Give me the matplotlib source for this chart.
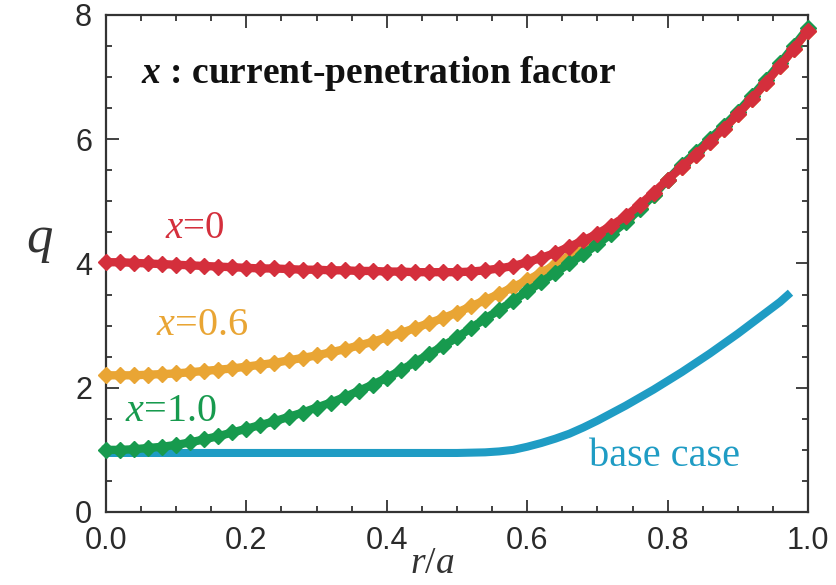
import numpy as np
import matplotlib
matplotlib.use("Agg")
import matplotlib.pyplot as plt
from matplotlib.ticker import MultipleLocator, FormatStrFormatter

plt.rcParams["mathtext.fontset"] = "custom"
plt.rcParams["mathtext.rm"] = "Liberation Serif"
plt.rcParams["mathtext.it"] = "Liberation Serif:italic"
plt.rcParams["mathtext.bf"] = "Liberation Serif:bold"
plt.rcParams["mathtext.bfit"] = "Liberation Serif:italic:bold"

# normalized minor radius grid for the profiles with markers
r_grid = np.linspace(0.0, 1.0, 51)

# safety factor q(r) for current-penetration factor x = 0
q_x0 = [4.02, 4.02, 4.01, 4.00, 3.99, 3.98, 3.97, 3.96, 3.95, 3.94,
        3.93, 3.92, 3.92, 3.91, 3.90, 3.90, 3.89, 3.89, 3.88, 3.88,
        3.87, 3.87, 3.86, 3.86, 3.86, 3.86, 3.87, 3.89, 3.92, 3.96,
        4.02, 4.09, 4.17, 4.27, 4.37, 4.48, 4.61, 4.76, 4.94, 5.14,
        5.35, 5.55, 5.75, 5.96, 6.17, 6.40, 6.65, 6.91, 7.18, 7.46,
        7.75]

# x = 0.6
q_x06 = [2.20, 2.20, 2.20, 2.21, 2.22, 2.23, 2.25, 2.27, 2.29, 2.31,
         2.34, 2.37, 2.40, 2.44, 2.48, 2.52, 2.57, 2.62, 2.68, 2.74,
         2.81, 2.88, 2.96, 3.04, 3.12, 3.21, 3.31, 3.41, 3.51, 3.62,
         3.73, 3.85, 3.98, 4.11, 4.25, 4.40, 4.56, 4.72, 4.90, 5.11,
         5.35, 5.55, 5.75, 5.96, 6.17, 6.40, 6.65, 6.91, 7.18, 7.46,
         7.75]

# x = 1.0
q_x10 = [1.00, 1.00, 1.01, 1.03, 1.05, 1.08, 1.12, 1.17, 1.22, 1.28,
         1.34, 1.40, 1.46, 1.53, 1.60, 1.68, 1.76, 1.85, 1.95, 2.05,
         2.16, 2.28, 2.41, 2.54, 2.67, 2.81, 2.96, 3.11, 3.25, 3.40,
         3.55, 3.70, 3.85, 4.00, 4.15, 4.31, 4.48, 4.66, 4.87, 5.10,
         5.35, 5.58, 5.79, 6.00, 6.21, 6.44, 6.69, 6.95, 7.22, 7.50,
         7.79]

# base case profile
r_base = [0.00, 0.04, 0.08, 0.12, 0.16, 0.20, 0.24, 0.28, 0.32, 0.36,
          0.40, 0.44, 0.48, 0.50, 0.52, 0.54, 0.56, 0.58, 0.60, 0.62,
          0.64, 0.66, 0.68, 0.70, 0.72, 0.74, 0.76, 0.78, 0.80, 0.82,
          0.84, 0.86, 0.88, 0.90, 0.92, 0.94, 0.96, 0.975]
q_base = [0.95, 0.95, 0.95, 0.95, 0.95, 0.95, 0.95, 0.95, 0.95, 0.95,
          0.95, 0.95, 0.95, 0.95, 0.955, 0.96, 0.975, 1.00, 1.05, 1.11,
          1.18, 1.26, 1.36, 1.47, 1.59, 1.71, 1.84, 1.97, 2.11, 2.25,
          2.40, 2.55, 2.71, 2.87, 3.04, 3.21, 3.38, 3.53]

c_red = "#d42f3c"
c_orange = "#e9a534"
c_green = "#179a4e"
c_blue = "#1f9cc4"
c_axis = "#333333"

fig = plt.figure(figsize=(8.37, 5.85), dpi=100)
ax = fig.add_axes([0.1266, 0.1248, 0.8388, 0.8496])

ax.plot(r_base, q_base, color=c_blue, lw=5.8, solid_capstyle="butt", zorder=2)
for q, c, z in [(q_x06, c_orange, 3), (q_x10, c_green, 4), (q_x0, c_red, 5)]:
    ax.plot(r_grid, q, color=c, lw=6, marker="D", ms=8,
            mec=c, mfc=c, zorder=z, clip_on=False)

ax.set_xlim(0, 1.0)
ax.set_ylim(0, 8)
ax.xaxis.set_major_locator(MultipleLocator(0.2))
ax.xaxis.set_minor_locator(MultipleLocator(0.05))
ax.yaxis.set_major_locator(MultipleLocator(2))
ax.yaxis.set_minor_locator(MultipleLocator(0.5))
ax.xaxis.set_major_formatter(FormatStrFormatter("%.1f"))

for s in ax.spines.values():
    s.set_linewidth(1.6)
    s.set_color(c_axis)
ax.tick_params(which="both", direction="in", top=True, right=True,
               color=c_axis, width=1.3)
ax.tick_params(which="major", length=9, labelsize=22, labelcolor="#2a2a2a")
ax.tick_params(axis="x", which="major", pad=10)
ax.tick_params(axis="y", which="major", pad=10)
ax.tick_params(which="minor", length=4.5)
for lab in ax.get_xticklabels() + ax.get_yticklabels():
    lab.set_fontfamily("Liberation Sans")

ax.set_xlabel(r"$r/a$", fontsize=27, color=c_axis, va="center")
ax.xaxis.set_label_coords(0.464, -0.103)
ax.set_ylabel(r"$q$", fontsize=38, rotation=0, color=c_axis, va="center")
ax.yaxis.set_label_coords(-0.095, 0.55)

ax.text(0.05, 7.05, r"$\mathbfit{x}$ : current-penetration factor",
        fontsize=27, fontweight="bold", family="Liberation Serif",
        color="#111111", va="center", ha="left")
ax.text(0.127, 4.57, r"$x$=0", fontsize=28, family="Liberation Serif",
        color=c_red, ha="center", va="center")
ax.text(0.137, 3.0, r"$x$=0.6", fontsize=29, family="Liberation Serif",
        color=c_orange, ha="center", va="center")
ax.text(0.093, 1.62, r"$x$=1.0", fontsize=29, family="Liberation Serif",
        color=c_green, ha="center", va="center")
ax.text(0.796, 0.9, "base case", fontsize=29, family="Liberation Serif",
        color=c_blue, ha="center", va="center")

fig.savefig("out.png", dpi=100)
